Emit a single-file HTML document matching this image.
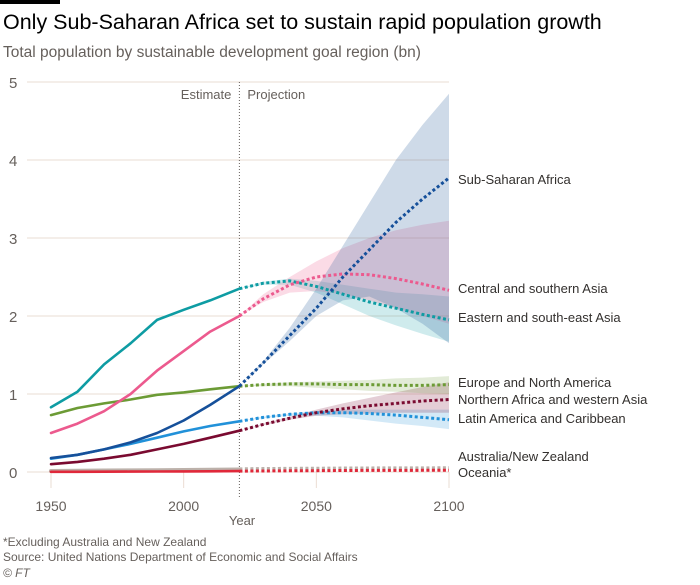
<!DOCTYPE html>
<html><head><meta charset="utf-8">
<style>
body{margin:0;background:#fff;font-family:"Liberation Sans",sans-serif;}
#wrap{position:relative;width:700px;height:585px;overflow:hidden;}
svg text{font-family:"Liberation Sans",sans-serif;}
</style></head>
<body>
<div id="wrap">
<svg id="chart" width="700" height="585">
  <rect x="0" y="0" width="60" height="4" fill="#000"/>
  <text x="3" y="29" font-size="21.5" fill="#000">Only Sub-Saharan Africa set to sustain rapid population growth</text>
  <text x="3" y="57" font-size="15.5" fill="#66605c">Total population by sustainable development goal region (bn)</text>
  <g id="grid"></g><g id="bands"></g><g id="lines"></g><g id="labels"></g>
  <text x="242" y="525" font-size="13" fill="#66605c" text-anchor="middle">Year</text>
  <text x="3" y="546" font-size="12" fill="#66605c">*Excluding Australia and New Zealand</text>
  <text x="3" y="561" font-size="12" fill="#66605c">Source: United Nations Department of Economic and Social Affairs</text>
  <text x="3" y="577" font-size="12" font-style="italic" fill="#66605c">© FT</text>
</svg>
</div>
<script>
const estYears=[1950,1960,1970,1980,1990,2000,2010,2021];
const projYears=[2021,2030,2040,2050,2060,2070,2080,2090,2100];
const yTicks=[0,1,2,3,4,5];
const xTicks=[1950,2000,2050,2100];
const seriesNames=["Sub-Saharan Africa","Central and southern Asia","Eastern and south-east Asia","Europe and North America","Northern Africa and western Asia","Latin America and Caribbean","Australia/New Zealand","Oceania*"];
const ssaEst=[0.18,0.22,0.29,0.38,0.5,0.66,0.86,1.1];
const ssaProj=[1.1,1.4,1.75,2.1,2.5,2.85,3.2,3.5,3.77];
const ssaLow=[1.1,1.38,1.68,2.0,2.2,2.25,2.1,1.9,1.65];
const ssaHigh=[1.1,1.42,1.85,2.35,2.9,3.45,4.0,4.45,4.85];
const csaEst=[0.5,0.62,0.78,1.0,1.3,1.55,1.8,2.0];
const csaProj=[2.0,2.22,2.4,2.5,2.54,2.53,2.48,2.41,2.33];
const csaLow=[2.0,2.18,2.3,2.32,2.28,2.2,2.1,2.0,1.9];
const csaHigh=[2.0,2.28,2.5,2.7,2.87,3.0,3.1,3.17,3.22];
const esaEst=[0.83,1.03,1.38,1.65,1.95,2.08,2.2,2.35];
const esaProj=[2.35,2.42,2.45,2.38,2.28,2.18,2.1,2.02,1.95];
const esaLow=[2.35,2.4,2.4,2.3,2.15,2.0,1.88,1.77,1.67];
const esaHigh=[2.35,2.44,2.48,2.45,2.4,2.35,2.3,2.28,2.25];
const enaEst=[0.73,0.82,0.88,0.93,0.99,1.02,1.06,1.1];
const enaProj=[1.1,1.12,1.13,1.13,1.12,1.12,1.11,1.11,1.12];
const enaLow=[1.1,1.1,1.1,1.08,1.06,1.04,1.03,1.01,1.0];
const enaHigh=[1.1,1.13,1.15,1.16,1.17,1.18,1.2,1.21,1.23];
const nawEst=[0.1,0.13,0.17,0.22,0.29,0.36,0.44,0.53];
const nawProj=[0.53,0.61,0.69,0.76,0.81,0.85,0.88,0.91,0.93];
const nawLow=[0.53,0.6,0.67,0.72,0.74,0.75,0.76,0.76,0.76];
const nawHigh=[0.53,0.62,0.71,0.8,0.88,0.95,1.02,1.09,1.15];
const lacEst=[0.17,0.22,0.29,0.36,0.44,0.52,0.59,0.65];
const lacProj=[0.65,0.7,0.74,0.76,0.76,0.75,0.73,0.7,0.67];
const lacLow=[0.65,0.69,0.72,0.72,0.7,0.66,0.62,0.59,0.55];
const lacHigh=[0.65,0.71,0.75,0.78,0.8,0.8,0.8,0.8,0.8];
const anzEst=[0.013,0.015,0.018,0.02,0.022,0.025,0.028,0.031];
const anzProj=[0.031,0.034,0.037,0.039,0.041,0.042,0.043,0.044,0.045];
const anzLow=anzProj, anzHigh=anzProj;
const ocEst=[0.002,0.003,0.004,0.005,0.006,0.008,0.009,0.011];
const ocProj=[0.011,0.013,0.015,0.017,0.019,0.02,0.021,0.022,0.023];
const ocLow=ocProj, ocHigh=ocProj;

const NS="http://www.w3.org/2000/svg";
const X0=51,X1=449,Y0=472,Y5=82;
const x=v=>X0+(v-1950)*(X1-X0)/150;
const y=v=>Y0+(v)*(Y5-Y0)/5;
function mk(tag,attrs,parent){const e=document.createElementNS(NS,tag);for(const k in attrs)e.setAttribute(k,attrs[k]);parent.appendChild(e);return e;}
const grid=document.getElementById('grid'),bands=document.getElementById('bands'),lines=document.getElementById('lines'),labels=document.getElementById('labels');
yTicks.forEach(t=>{
  const l=mk('line',{x1:27,x2:449,y1:y(t),y2:y(t),stroke:'#eadcd3','stroke-width':1},grid);
  
  
  const tx=mk('text',{x:9,y:y(t)+6,'font-size':15,fill:'#66605c'},grid);
  tx.textContent=t;
  
  
});
xTicks.forEach(t=>{
  const l=mk('line',{x1:x(t),x2:x(t),y1:472,y2:488,stroke:'#eadcd3','stroke-width':1},grid);
  
  
  const tx=mk('text',{x:x(t),y:511,'font-size':14,fill:'#66605c','text-anchor':'middle'},grid);
  tx.textContent=t;
  
  
});
const div=mk('line',{x1:x(2021),x2:x(2021),y1:82,y2:497,stroke:'#66605c','stroke-width':1,'stroke-dasharray':'1,2'},grid);


const e1=mk('text',{x:x(2021)-8,y:99,'font-size':13,fill:'#66605c','text-anchor':'end'},grid);e1.textContent='Estimate';


const e2=mk('text',{x:x(2021)+8,y:99,'font-size':13,fill:'#66605c'},grid);e2.textContent='Projection';



const S=[
 {key:'aus-nz',est:anzEst,proj:anzProj,lo:anzLow,hi:anzHigh,c:'#bcb1aa',b:'rgba(188,177,170,0.2)',ly:461,w:4.5},
 {key:'oceania',est:ocEst,proj:ocProj,lo:ocLow,hi:ocHigh,c:'#e0283a',b:'rgba(224,40,58,0.2)',ly:477,w:3},
 {key:'latam',est:lacEst,proj:lacProj,lo:lacLow,hi:lacHigh,c:'#2191d9',b:'rgba(33,145,217,0.2)',ly:423,w:3},
 {key:'nafrica-wasia',est:nawEst,proj:nawProj,lo:nawLow,hi:nawHigh,c:'#7a0a30',b:'rgba(122,10,48,0.2)',ly:404,w:3},
 {key:'europe-na',est:enaEst,proj:enaProj,lo:enaLow,hi:enaHigh,c:'#6c9b35',b:'rgba(108,155,53,0.2)',ly:387,w:3},
 {key:'east-se-asia',est:esaEst,proj:esaProj,lo:esaLow,hi:esaHigh,c:'#0e9ca3',b:'rgba(14,156,163,0.2)',ly:322,w:3},
 {key:'central-s-asia',est:csaEst,proj:csaProj,lo:csaLow,hi:csaHigh,c:'#ec5a8e',b:'rgba(240,110,155,0.25)',ly:293,w:3},
 {key:'ssa',est:ssaEst,proj:ssaProj,lo:ssaLow,hi:ssaHigh,c:'#16509a',b:'rgba(30,85,150,0.22)',ly:184,w:3}
];
const labelText={'ssa':seriesNames[0],'central-s-asia':seriesNames[1],'east-se-asia':seriesNames[2],'europe-na':seriesNames[3],'nafrica-wasia':seriesNames[4],'latam':seriesNames[5],'aus-nz':seriesNames[6],'oceania':seriesNames[7]};
function pts(ys,vs){return ys.map((yr,i)=>x(yr).toFixed(1)+','+y(vs[i]).toFixed(1));}
S.forEach(s=>{
  const d='M'+pts(projYears,s.hi).join('L')+'L'+pts(projYears,s.lo).reverse().join('L')+'Z';
  const p=mk('path',{d:d,fill:s.b,stroke:'none'},bands);
  
  
});
S.forEach(s=>{
  const a=mk('polyline',{points:pts(estYears,s.est).join(' '),fill:'none',stroke:s.c,'stroke-width':s.w-0.4,'stroke-linejoin':'round','stroke-linecap':'round'},lines);
  
  
  const b=mk('polyline',{points:pts(projYears,s.proj).join(' '),fill:'none',stroke:s.c,'stroke-width':s.w,'stroke-dasharray':'3,2.5'},lines);
  
  
  const t=mk('text',{x:458,y:s.ly,'font-size':13,fill:'#33302e'},labels);
  t.textContent=labelText[s.key];
  
  
});
</script>
</body></html>
